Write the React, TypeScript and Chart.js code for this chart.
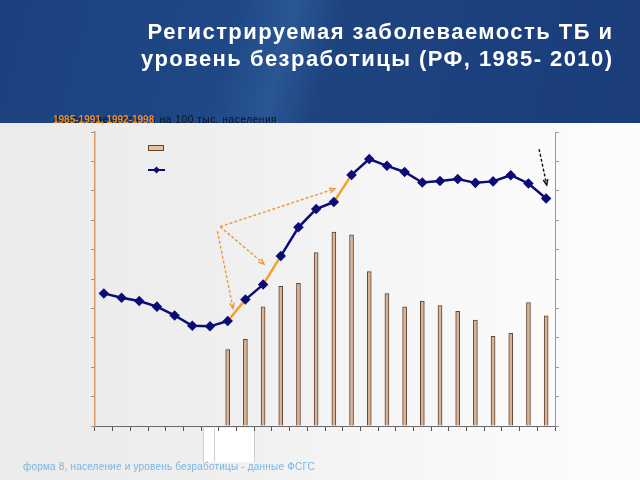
import React, { useEffect, useRef } from 'react';
import { Chart, registerables } from 'chart.js';

Chart.register(...registerables);

// ---- Data ----
const years = [
  '1985', '1986', '1987', '1988', '1989', '1990', '1991', '1992', '1993', '1994',
  '1995', '1996', '1997', '1998', '1999', '2000', '2001', '2002', '2003', '2004',
  '2005', '2006', '2007', '2008', '2009', '2010',
];

// Registered TB incidence per 100 000 population (left axis)
const tbIncidence = [
  45.1, 43.6, 42.5, 40.6, 37.6, 34.1, 33.9, 35.7, 43.0, 48.1,
  57.8, 67.6, 73.8, 76.2, 85.4, 90.8, 88.5, 86.4, 82.8, 83.3,
  84.0, 82.7, 83.2, 85.3, 82.5, 77.4,
];

// Unemployment rate, % (right axis)
const unemployment: (number | null)[] = [
  null, null, null, null, null, null, null, 5.2, 5.9, 8.1,
  9.5, 9.7, 11.8, 13.2, 13.0, 10.5, 9.0, 8.1, 8.5, 8.2,
  7.8, 7.2, 6.1, 6.3, 8.4, 7.5,
];

// Segments (start index) of the line highlighted in orange
const highlightedSegments = [7, 9, 13];

// Annotation arrows in data coordinates: [category index, left-axis value]
const orangeArrows = [
  { from: [6.57, 67.8], to: [13.06, 80.7] },
  { from: [6.57, 67.8], to: [9.05, 55.1] },
  { from: [6.42, 66.3], to: [7.3, 40.0] },
];
const blackArrows = [{ from: [24.6, 94.2], to: [25.03, 82.0] }];

const leftAxis = { min: 0, max: 100, step: 10 };
const rightAxis = { min: 0, max: 20, step: 2 };

const NAVY = '#0c0c78';
const ORANGE = '#f2a02e';

const overlayPlugin = {
  id: 'overlay',
  afterDatasetsDraw(chart: any) {
    const ctx = chart.ctx;
    const xs = chart.scales.x;
    const ys = chart.scales.y;
    const drawArrow = (a: any, color: string) => {
      const x1 = xs.getPixelForValue(a.from[0]);
      const y1 = ys.getPixelForValue(a.from[1]);
      const x2 = xs.getPixelForValue(a.to[0]);
      const y2 = ys.getPixelForValue(a.to[1]);
      ctx.save();
      ctx.strokeStyle = color;
      ctx.lineWidth = 1.4;
      ctx.setLineDash([3, 2]);
      ctx.beginPath();
      ctx.moveTo(x1, y1);
      ctx.lineTo(x2, y2);
      ctx.stroke();
      ctx.setLineDash([]);
      const ang = Math.atan2(y2 - y1, x2 - x1);
      const L = 6;
      ctx.beginPath();
      ctx.moveTo(x2 - L * Math.cos(ang - 0.4), y2 - L * Math.sin(ang - 0.4));
      ctx.lineTo(x2, y2);
      ctx.lineTo(x2 - L * Math.cos(ang + 0.4), y2 - L * Math.sin(ang + 0.4));
      ctx.stroke();
      ctx.restore();
    };
    orangeArrows.forEach((a) => drawArrow(a, '#e89a3a'));
    blackArrows.forEach((a) => drawArrow(a, '#111111'));
  },
  afterDraw(chart: any) {
    // legend keys (the texts are hidden behind the header in the original)
    const ctx = chart.ctx;
    const left = chart.chartArea.left + 53;
    const top = chart.chartArea.top + 13;
    ctx.save();
    ctx.fillStyle = '#e8c3a0';
    ctx.strokeStyle = '#5e4232';
    ctx.lineWidth = 1;
    ctx.fillRect(left, top, 16, 6);
    ctx.strokeRect(left + 0.5, top + 0.5, 15, 5);
    ctx.strokeStyle = NAVY;
    ctx.lineWidth = 2;
    ctx.beginPath();
    ctx.moveTo(left, top + 25);
    ctx.lineTo(left + 17, top + 25);
    ctx.stroke();
    ctx.fillStyle = NAVY;
    ctx.beginPath();
    const cx = left + 8.5, cy = top + 25;
    ctx.moveTo(cx, cy - 3.5);
    ctx.lineTo(cx + 3.5, cy);
    ctx.lineTo(cx, cy + 3.5);
    ctx.lineTo(cx - 3.5, cy);
    ctx.closePath();
    ctx.fill();
    ctx.restore();
  },
};

export default function App() {
  const ref = useRef<HTMLCanvasElement>(null);

  useEffect(() => {
    if (!ref.current) return;
    const chart = new Chart(ref.current, {
      type: 'bar',
      data: {
        labels: years,
        datasets: [
          {
            type: 'line',
            label: 'Заболеваемость ТБ на 100 тыс. населения',
            data: tbIncidence,
            yAxisID: 'y',
            borderColor: NAVY,
            backgroundColor: NAVY,
            borderWidth: 2.5,
            pointStyle: 'rectRot',
            pointRadius: 3.5,
            pointBackgroundColor: NAVY,
            pointBorderColor: NAVY,
            tension: 0,
            order: 0,
            segment: {
              borderColor: (c: any) =>
                highlightedSegments.includes(c.p0DataIndex) ? ORANGE : undefined,
            },
          } as any,
          {
            type: 'bar',
            label: 'Уровень безработицы, %',
            data: unemployment,
            yAxisID: 'y1',
            backgroundColor: '#d9b595',
            borderColor: '#5e4232',
            borderWidth: 1,
            barThickness: 4,
            order: 1,
          } as any,
        ],
      },
      options: {
        responsive: false,
        animation: false,
        layout: { padding: { left: 91, right: 81, top: 132, bottom: 49 } },
        plugins: { legend: { display: false }, tooltip: { enabled: false } },
        scales: {
          x: {
            offset: true,
            ticks: { display: false },
            grid: {
              display: true,
              drawOnChartArea: false,
              drawTicks: true,
              tickLength: 5,
              color: '#555555',
              offset: true,
            },
            border: { display: true, color: '#6a6a6a', width: 1 },
          },
          y: {
            position: 'left',
            min: leftAxis.min,
            max: leftAxis.max,
            ticks: { display: false, stepSize: leftAxis.step },
            grid: { drawOnChartArea: false, tickLength: 4, color: '#a89080' },
            border: { display: true, color: '#d49a6a', width: 1.5 },
          },
          y1: {
            position: 'right',
            min: rightAxis.min,
            max: rightAxis.max,
            ticks: { display: false, stepSize: rightAxis.step },
            grid: { drawOnChartArea: false, tickLength: 4, color: '#9a9a9a' },
            border: { display: true, color: '#9a9a9a', width: 1 },
          },
        },
      },
      plugins: [overlayPlugin],
    });
    return () => chart.destroy();
  }, []);

  const font = '"Liberation Sans", Arial, sans-serif';

  return (
    <div
      style={{
        position: 'fixed',
        left: 0,
        top: 0,
        width: 640,
        height: 480,
        overflow: 'hidden',
        fontFamily: font,
        background:
          'linear-gradient(90deg, #ebebeb 0%, #eeeeee 30%, #f6f6f6 60%, #fdfdfd 100%)',
      }}
    >
      <div
        style={{
          position: 'absolute',
          left: 0,
          top: 0,
          width: 640,
          height: 123,
          background:
            'linear-gradient(105deg, #1b4080 0%, #1f4886 36%, #2a5694 44%, #1e4480 51%, #1a3c7a 100%)',
        }}
      />
      <div
        style={{
          position: 'absolute',
          left: 203,
          top: 428,
          width: 51,
          height: 34,
          background: '#ffffff',
          borderRight: '1px solid #cccccc',
        }}
      />
      <div
        style={{
          position: 'absolute',
          left: 203,
          top: 428,
          width: 10,
          height: 34,
          borderLeft: '1px solid #d0d0d0',
          borderRight: '1px solid #d0d0d0',
        }}
      />
      <canvas
        ref={ref}
        width={640}
        height={480}
        style={{ position: 'absolute', left: 0, top: 0, width: 640, height: 480 }}
      />
      <div
        style={{
          position: 'absolute',
          right: 26.5,
          top: 18,
          textAlign: 'right',
          color: '#ffffff',
          fontWeight: 'bold',
          fontSize: 22,
          lineHeight: '27px',
          letterSpacing: 1.45,
          whiteSpace: 'nowrap',
        }}
      >
        Регистрируемая заболеваемость ТБ и
        <br />
        уровень безработицы (РФ, 1985- 2010)
      </div>
      <div
        style={{
          position: 'absolute',
          left: 53,
          top: 114,
          fontSize: 10,
          lineHeight: '12px',
          color: '#111111',
          whiteSpace: 'nowrap',
          letterSpacing: 0.6,
        }}
      >
        Заболеваемость ТБ на 100 тыс. населения
      </div>
      <div
        style={{
          position: 'absolute',
          left: 53,
          top: 114,
          fontSize: 10,
          lineHeight: '12px',
          color: '#f08c1e',
          fontWeight: 'bold',
          whiteSpace: 'nowrap',
        }}
      >
        1985-1991, 1992-1998
      </div>
      <div
        style={{
          position: 'absolute',
          left: 23,
          top: 460,
          fontSize: 10,
          lineHeight: '14px',
          color: '#78b6e2',
          whiteSpace: 'nowrap',
          letterSpacing: 0.2,
        }}
      >
        форма 8, население и уровень безработицы - данные ФСГС
      </div>
    </div>
  );
}
